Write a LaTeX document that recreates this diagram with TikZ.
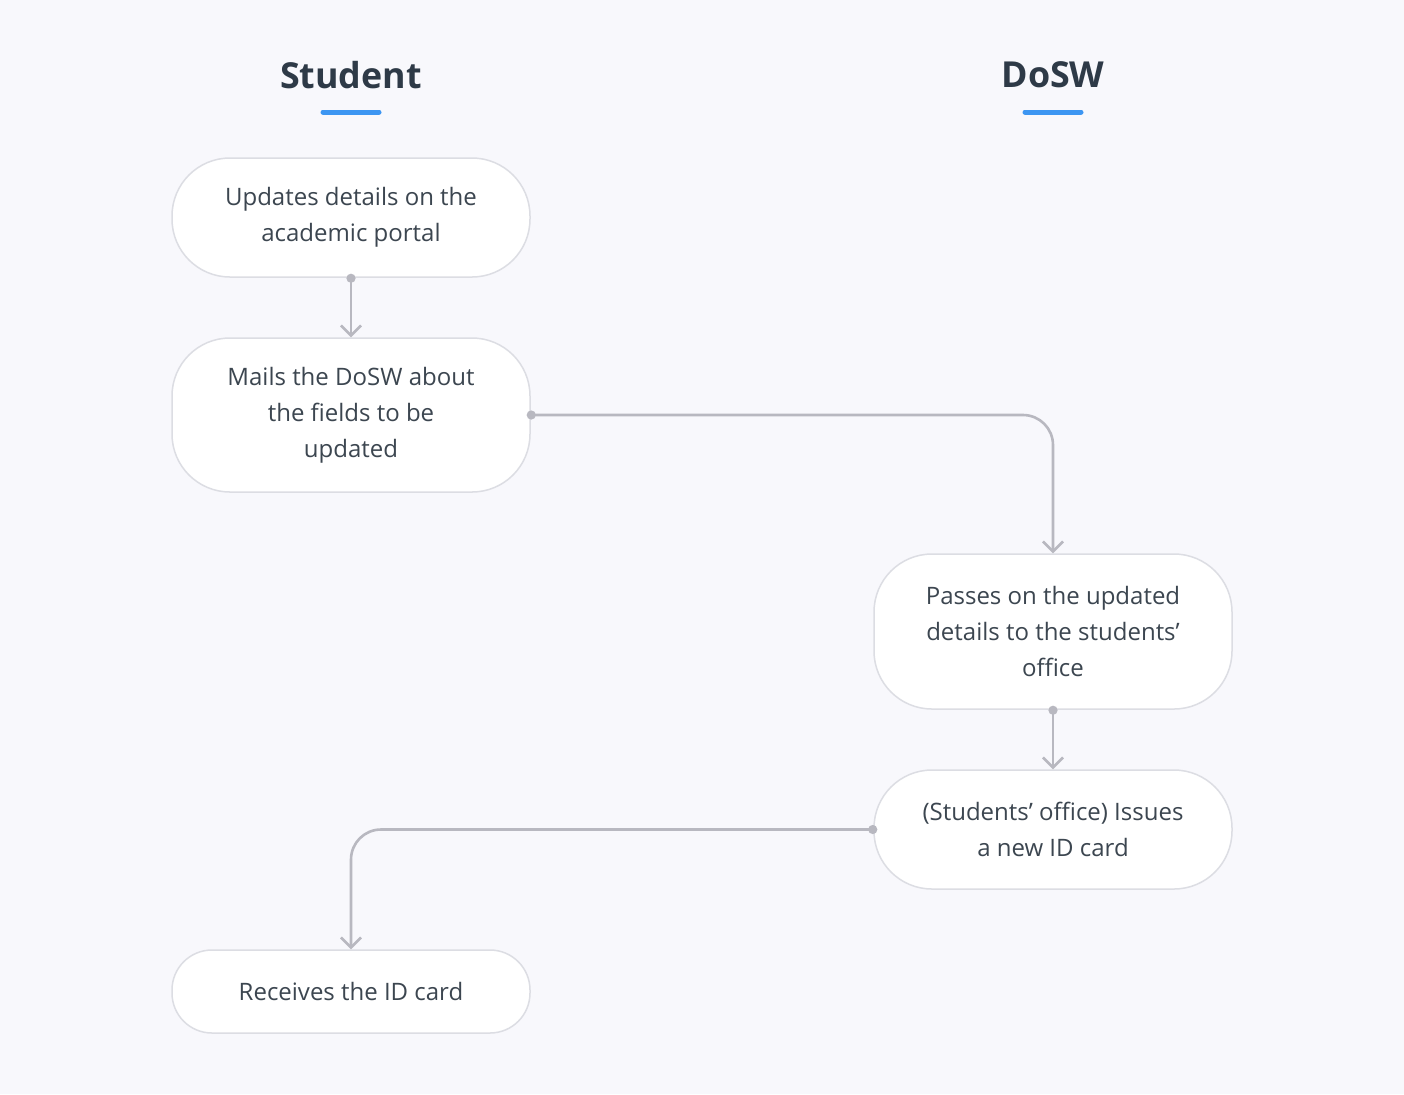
\documentclass[tikz,border=0pt]{standalone}
\usepackage{fontspec}
\setmainfont{Open Sans}
\usetikzlibrary{arrows.meta,positioning}
\definecolor{bgcol}{HTML}{F8F8FC}
\definecolor{boxline}{HTML}{DCDDE3}
\definecolor{wire}{HTML}{B8B8C0}
\definecolor{txt}{HTML}{3C4650}
\definecolor{head}{HTML}{2E3A47}
\definecolor{accent}{HTML}{3D96F2}

\begin{document}
\begin{tikzpicture}[
  x=0.5pt, y=-0.5pt,
  font=\fontsize{12}{18}\selectfont,
  act/.style={draw=boxline, line width=0.75pt, fill=white, rounded corners=29pt,
    minimum width=179pt, align=center, text=txt, inner sep=0pt},
  lane/.style={font=\fontsize{17.9}{20}\selectfont\bfseries, text=head},
  bar/.style={draw=accent, line width=2.5pt, line cap=round},
  flow/.style={draw=wire, line width=1.3pt, rounded corners=15pt, shorten <=-2pt,
    {Circle[length=4.5pt]}-{Straight Barb[length=5pt,width=10pt]}}
]

% background
\fill[bgcol] (0,0) rectangle (1404,1094);

% Lanes
\node[lane] (stu)  at (351,75)  {Student};
\node[lane] (dosw) at (1053,75) {DoSW};
\draw[bar] (323,112) -- (379,112);
\draw[bar] (1025,112) -- (1081,112);

% Student side
\node[act, minimum height=59.5pt] (upd)  at (351,217.5) {Updates details on the\\academic portal};
\node[act, minimum height=77pt]   (mail) at (351,415)   {Mails the DoSW about\\the fields to be\\updated};

% DoSW side
\node[act, minimum height=77.5pt] (pass)  at (1053,631.5) {Passes on the updated\\details to the students’\\office};
\node[act, minimum height=59.5pt] (issue) at (1053,829.5) {(Students’ office) Issues\\a new ID card};

% back to the student
\node[act, minimum height=41.5pt, rounded corners=20pt] (recv) at (351,991.5) {Receives the ID card};

\draw[flow] (upd.south) -- (mail.north);
\draw[flow] (mail.east) -| (pass.north);
\draw[flow] (pass.south) -- (issue.north);
\draw[flow] (issue.west) -| (recv.north);

\end{tikzpicture}
\end{document}
